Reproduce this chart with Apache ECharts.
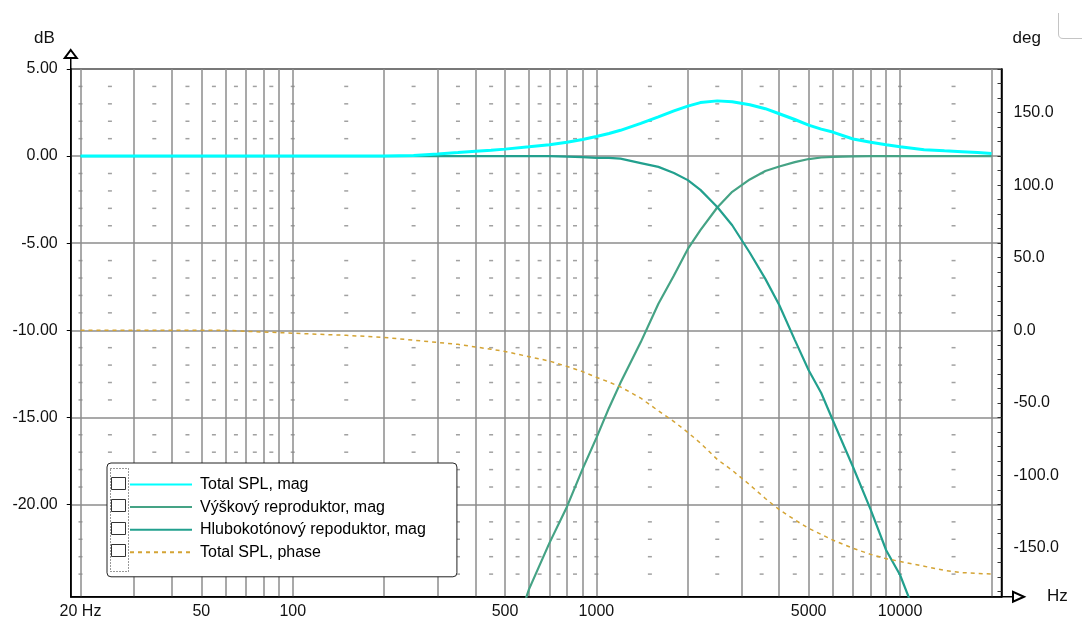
<!DOCTYPE html>
<html><head><meta charset="utf-8">
<script src="https://cdn.jsdelivr.net/npm/echarts@6/dist/echarts.min.js"></script>
<style>html,body{margin:0;padding:0;background:#fff}#c{width:1082px;height:621px}</style>
</head><body><div id="c"></div>
<script>
// ---- data ----
const freqs = [20,30,40,50,60,70,80,100,120,150,200,250,300,350,400,450,500,600,700,800,900,1000,1100,1200,1400,1600,1800,2000,2200,2500,2800,3200,3600,4000,4500,5000,5500,6000,7000,8000,9000,10000,12000,14000,16000,18000,20000];
const totalMag = [0,0,0,0,0,0,0,0,0,0,0.01,0.04,0.12,0.2,0.28,0.33,0.4,0.53,0.65,0.8,0.95,1.12,1.3,1.48,1.88,2.25,2.6,2.87,3.07,3.17,3.12,2.95,2.72,2.43,2.1,1.78,1.55,1.38,0.98,0.8,0.65,0.54,0.37,0.3,0.25,0.2,0.15];
const tweeterMag = [null,null,null,null,null,null,null,null,null,null,null,null,null,null,null,null,-29,-24.86,-22.22,-20.13,-17.97,-16.18,-14.46,-13.02,-10.68,-8.48,-6.86,-5.33,-4.25,-2.95,-2.05,-1.34,-0.86,-0.6,-0.35,-0.17,-0.08,-0.05,-0.02,0,0,0,0,0,0,0,0];
const wooferMag = [0,0,0,0,0,0,0,0,0,0,0,0,0,0,0,0,0,0,0,-0.03,-0.06,-0.1,-0.1,-0.15,-0.4,-0.62,-0.97,-1.38,-1.94,-2.92,-3.97,-5.55,-7.05,-8.55,-10.55,-12.3,-13.6,-15.15,-17.85,-20.3,-22.63,-24.05,-27.6,null,null,null,null];
const totalPhase = [0,0,0,0,0,-0.7,-1.2,-2.0,-2.7,-3.5,-4.9,-6.8,-8.4,-9.7,-11.5,-13.1,-14.6,-18.2,-21.2,-24.9,-28.5,-32.4,-35.7,-39,-46.8,-55.5,-62.9,-70.4,-77.7,-89,-96.5,-106.5,-115.9,-123.6,-130.6,-136.5,-140.7,-144.5,-150.2,-154.4,-157.4,-159.3,-162.6,-165.4,-167,-167.5,-168];
const seriesNames = ['Total SPL, mag','Výškový reproduktor, mag','Hlubokotónový repoduktor, mag','Total SPL, phase'];
// axis ticks
const gridFreqs = [20,30,40,50,60,70,80,90,100,200,300,400,500,600,700,800,900,1000,2000,3000,4000,5000,6000,7000,8000,9000,10000,20000];
const labelFreqs = [20,50,100,500,1000,5000,10000];
const dbTicks = [5,0,-5,-10,-15,-20];
const degLabels = [150,100,50,0,-50,-100,-150];
const degTicks = [180,170,160,150,140,130,120,110,100,90,80,70,60,50,40,30,20,10,0,-10,-20,-30,-40,-50,-60,-70,-80,-90,-100,-110,-120,-130,-140,-150,-160,-170,-180];
const dashFreqs = [20,25,35,45,55,65,75,85,100,150,250,350,450,550,650,750,850,1000,1500,2500,3500,4500,5500,6500,7500,8500,10000,15000];
const dashLevels = [4,3,2,1,-1,-2,-3,-4,-6,-7,-8,-9,-11,-12,-13,-14,-16,-17,-18,-19,-21,-22,-23,-24];

// ---- chart ----
const FONT = '"Liberation Sans", Arial, sans-serif';
const TXT = '#111';
const GRIDC = '#8c8c8c';
const pairs = vals => freqs.map((f, i) => [f, vals[i]]);
const dashData = [];
dashFreqs.forEach(f => dashLevels.forEach(d => dashData.push([f, d])));

const chart = echarts.init(document.getElementById('c'), null, {renderer: 'canvas', width: 1082, height: 621});

const rowY = [483, 505.6, 528.2, 550.8];
const graphics = [
  {type: 'rect', z: 100, shape: {x: 110.5, y: 468.5, width: 18, height: 103}, style: {fill: 'none', stroke: '#333', lineWidth: 1, lineDash: [1, 2]}},
  {type: 'line', z: 100, shape: {x1: 70.75, y1: 58, x2: 70.75, y2: 69}, style: {stroke: '#000', lineWidth: 1.5}},
  {type: 'line', z: 100, shape: {x1: 1001.5, y1: 596.75, x2: 1013, y2: 596.75}, style: {stroke: '#000', lineWidth: 1.5}},
  {type: 'line', z: 100, shape: {x1: 1058.5, y1: 13, x2: 1058.5, y2: 34}, style: {stroke: '#c4c4c4', lineWidth: 1}},
  {type: 'bezierCurve', z: 100, shape: {x1: 1058.5, y1: 34, cpx1: 1058.5, cpy1: 38.5, x2: 1063, y2: 38.5}, style: {fill: 'none', stroke: '#c4c4c4', lineWidth: 1}},
  {type: 'line', z: 100, shape: {x1: 1063, y1: 38.5, x2: 1082, y2: 38.5}, style: {stroke: '#c4c4c4', lineWidth: 1}}
];
rowY.forEach(y => graphics.push({type: 'rect', z: 101, shape: {x: 111.5, y: Math.round(y - 6.5) + 0.5, width: 14, height: 12}, style: {fill: '#fff', stroke: '#333', lineWidth: 1}}));

const option = {
  animation: false,
  backgroundColor: '#fff',
  textStyle: {fontFamily: FONT},
  grid: {left: 70.75, right: 80.5, top: 69, bottom: 24.25, show: true, borderColor: '#000', borderWidth: 1.5, backgroundColor: '#fff'},
  xAxis: {
    type: 'log', logBase: 10, min: 18.575, max: 21577,
    name: 'Hz', nameLocation: 'end', nameGap: 45.5,
    nameTextStyle: {fontSize: 17, color: TXT, fontFamily: FONT, align: 'left', verticalAlign: 'middle', padding: [0, 0, 7, 0]},
    axisLine: {show: true, onZero: false, lineStyle: {color: '#000', width: 1.5}, symbol: ['none', 'emptyTriangle'], symbolSize: [10, 11], symbolOffset: [0, 17]},
    axisTick: {show: false, customValues: gridFreqs},
    axisLabel: {customValues: labelFreqs, formatter: v => (Math.round(v) === 20 ? '20 Hz' : String(Math.round(v))), fontSize: 16, color: TXT, fontFamily: FONT, margin: 7},
    splitLine: {show: true, lineStyle: {color: GRIDC, width: 1.5}},
    minorTick: {show: false}, minorSplitLine: {show: false}
  },
  yAxis: [
    {
      type: 'value', min: -25.3, max: 5, position: 'left',
      name: 'dB', nameLocation: 'end', nameGap: 31,
      nameTextStyle: {fontSize: 17, color: TXT, fontFamily: FONT, align: 'right', verticalAlign: 'middle', padding: [0, 16, 0, 0]},
      axisLine: {show: true, onZero: false, lineStyle: {color: '#000', width: 1.5}, symbol: ['none', 'emptyTriangle'], symbolSize: [12, 8], symbolOffset: [0, 15]},
      axisTick: {show: true, inside: false, length: 4, customValues: dbTicks, lineStyle: {color: '#000', width: 1}},
      axisLabel: {customValues: dbTicks, formatter: v => Number(v).toFixed(2), fontSize: 16, color: TXT, fontFamily: FONT, margin: 13},
      splitLine: {show: true, lineStyle: {color: GRIDC, width: 1.5}}
    },
    {
      type: 'value', min: -183.6, max: 180, position: 'right',
      name: 'deg', nameLocation: 'end', nameGap: 31,
      nameTextStyle: {fontSize: 17, color: TXT, fontFamily: FONT, align: 'left', verticalAlign: 'middle', padding: [0, 0, 0, 11]},
      axisLine: {show: true, onZero: false, lineStyle: {color: '#000', width: 1.5}},
      axisTick: {show: true, inside: true, length: 4, customValues: degTicks, lineStyle: {color: '#333', width: 1}},
      axisLabel: {customValues: degLabels, formatter: v => Number(v).toFixed(1), fontSize: 16, color: TXT, fontFamily: FONT, margin: 12},
      splitLine: {show: false}
    }
  ],
  legend: {
    data: seriesNames, selectedMode: false, orient: 'vertical',
    left: 107, top: 463,
    itemWidth: 62, itemHeight: 16, itemGap: 6.6,
    padding: [13.5, 31, 16.5, 22],
    backgroundColor: '#fff', borderColor: '#222', borderWidth: 1, borderRadius: 4,
    itemStyle: {opacity: 0, borderWidth: 0},
    textStyle: {fontSize: 16, color: '#000', fontFamily: FONT, padding: [0, 0, 0, 3]}
  },
  graphic: graphics,
  series: [
    {name: '', type: 'scatter', data: dashData, symbol: 'rect', symbolSize: [4, 1.5], itemStyle: {color: '#8a8a8a'}, silent: true, z: 1, xAxisIndex: 0, yAxisIndex: 0},
    {name: seriesNames[0], type: 'line', data: pairs(totalMag), symbol: 'none', lineStyle: {color: '#00ffff', width: 3}, itemStyle: {color: '#00ffff'}, z: 4, yAxisIndex: 0},
    {name: seriesNames[1], type: 'line', data: pairs(tweeterMag), symbol: 'none', lineStyle: {color: '#45a385', width: 2.2}, itemStyle: {color: '#45a385'}, z: 3, yAxisIndex: 0},
    {name: seriesNames[2], type: 'line', data: pairs(wooferMag), symbol: 'none', lineStyle: {color: '#22a08e', width: 2.2}, itemStyle: {color: '#22a08e'}, z: 3, yAxisIndex: 0},
    {name: seriesNames[3], type: 'line', data: pairs(totalPhase), symbol: 'none', lineStyle: {color: '#d4a435', width: 1.5, type: [4, 4]}, itemStyle: {color: '#d4a435'}, z: 3, yAxisIndex: 1}
  ]
};
chart.setOption(option);
</script>
</body></html>
